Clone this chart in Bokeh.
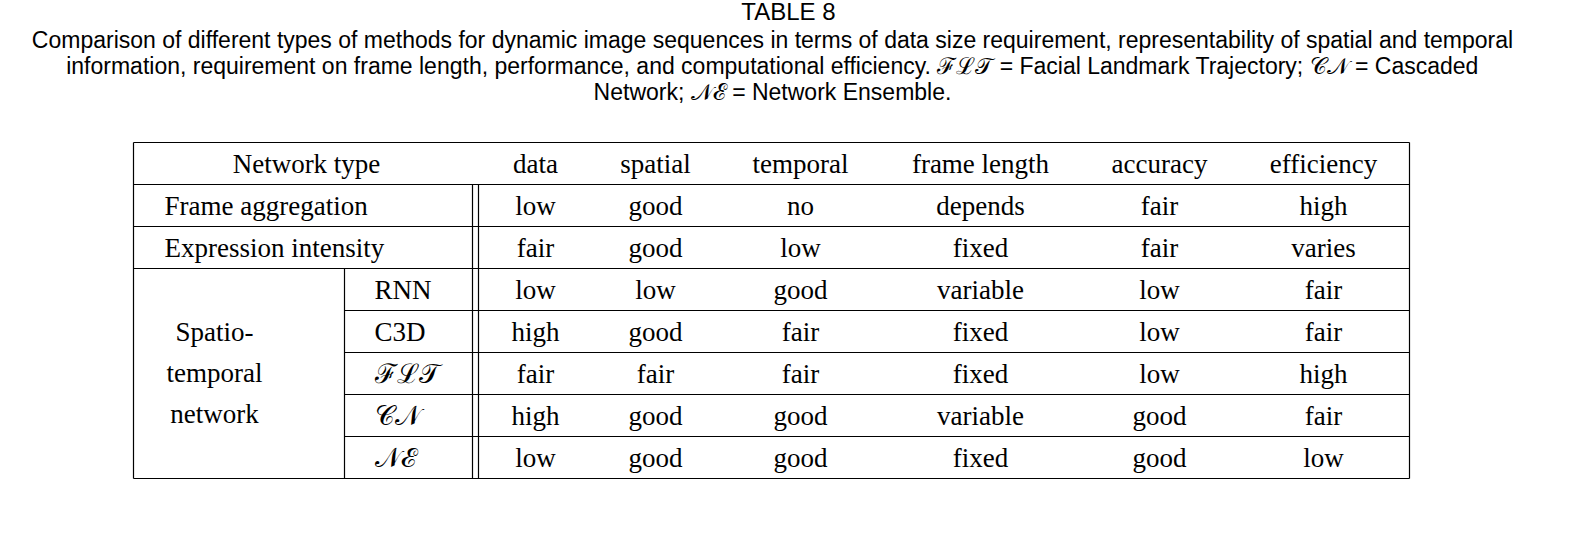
from bokeh.plotting import figure
from bokeh.embed import file_html
from bokeh.resources import INLINE
from bokeh.models import Range1d
from bokeh.core.properties import value

title = "TABLE 8"
caption = [
    "Comparison of different types of methods for dynamic image sequences in terms of data size requirement, representability of spatial and temporal",
    "information, requirement on frame length, performance, and computational efficiency. \u2131\u2112\U0001D4AF = Facial Landmark Trajectory; \U0001D49E\U0001D4A9 = Cascaded",
    "Network; \U0001D4A9\u2130 = Network Ensemble.",
]
columns = ["data", "spatial", "temporal", "frame length", "accuracy", "efficiency"]
row_labels = ["Frame aggregation", "Expression intensity"]
sub_labels = ["RNN", "C3D", "\u2131\u2112\U0001D4AF", "\U0001D49E\U0001D4A9", "\U0001D4A9\u2130"]
group_label = ["Spatio-", "temporal", "network"]
cells = [
    ["low", "good", "no", "depends", "fair", "high"],
    ["fair", "good", "low", "fixed", "fair", "varies"],
    ["low", "low", "good", "variable", "low", "fair"],
    ["high", "good", "fair", "fixed", "low", "fair"],
    ["fair", "fair", "fair", "fixed", "low", "high"],
    ["high", "good", "good", "variable", "good", "fair"],
    ["low", "good", "good", "fixed", "good", "low"],
]

W, H = 1577, 518
p = figure(width=W, height=H, output_backend="svg", toolbar_location=None,
           x_range=Range1d(8, 8 + W), y_range=Range1d(8 + H, 8), min_border=0,
           x_axis_location=None, y_axis_location=None)
p.grid.visible = False
p.outline_line_color = None

serif = value("Liberation Serif")
sans = value("Liberation Sans")

p.text(x=[796], y=[19], text=[title], text_font=sans, text_font_size="24px",
       text_align="center", text_baseline="middle", color="black")
p.text(x=[780, 780, 780], y=[47, 73, 99], text=caption, text_font=sans, text_font_size="23px",
       text_align="center", text_baseline="middle", color="black")

left, right, top = 141, 1417, 150
rh = 42
col_x = [543, 663, 808, 988, 1167, 1331]
n = len(cells)
ys = [top + rh * i for i in range(n + 2)]

# horizontal rules
x0 = [left, left, left, left] + [352] * 4 + [left]
x1 = [right] * 9
hy = ys[:9]
p.segment(x0=x0, y0=hy, x1=x1, y1=hy, line_color="black", line_width=1.2)
# vertical rules
vx = [left, right, 480, 486, 352]
vy0 = [top, top, ys[1], ys[1], ys[3]]
vy1 = [ys[-1]] * 5
p.segment(x0=vx, y0=vy0, x1=vx, y1=vy1, line_color="black", line_width=1.2)

fs = "27px"
p.text(x=[314], y=[ys[0] + rh / 2], text=["Network type"], text_font=serif,
       text_font_size=fs, text_align="center", text_baseline="middle", color="black")
p.text(x=col_x, y=[ys[0] + rh / 2] * 6, text=columns, text_font=serif,
       text_font_size=fs, text_align="center", text_baseline="middle", color="black")
p.text(x=[172, 172], y=[ys[1] + rh / 2, ys[2] + rh / 2], text=row_labels, text_font=serif,
       text_font_size=fs, text_align="left", text_baseline="middle", color="black")
p.text(x=[382] * 5, y=[ys[3 + i] + rh / 2 for i in range(5)], text=sub_labels, text_font=serif,
       text_font_size=fs, text_align="left", text_baseline="middle", color="black")
p.text(x=[222] * 3, y=[339, 380, 421], text=group_label, text_font=serif,
       text_font_size=fs, text_align="center", text_baseline="middle", color="black")
for i, row in enumerate(cells):
    p.text(x=col_x, y=[ys[1 + i] + rh / 2] * 6, text=row, text_font=serif,
           text_font_size=fs, text_align="center", text_baseline="middle", color="black")

open("out.html", "w").write(file_html(p, INLINE))
